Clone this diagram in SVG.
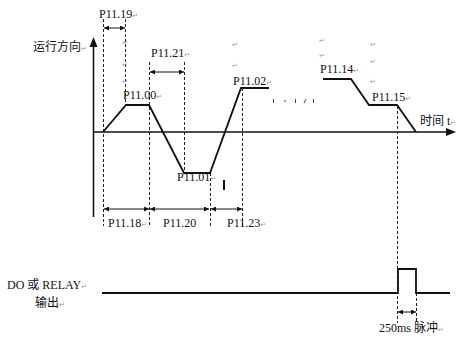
<svg xmlns="http://www.w3.org/2000/svg" width="457" height="337" viewBox="0 0 457 337">
<style>
  .t { font-family: "Liberation Serif", "Noto Sans CJK SC", serif; font-size: 12px; fill: #111; }
  .c { font-family: "Liberation Serif", "Noto Sans CJK SC", sans-serif; font-size: 12px; fill: #111; }
  .pm { font-family: "DejaVu Sans", sans-serif; font-size: 7px; fill: #999; }
  .dash { stroke: #222; stroke-width: 1; stroke-dasharray: 3 2; fill: none; }
  .axis { stroke: #111; stroke-width: 1.6; fill: none; }
  .curve { stroke: #111; stroke-width: 1.8; fill: none; stroke-linejoin: miter; }
  .dim { stroke: #111; stroke-width: 1; fill: none; marker-start: url(#ah); marker-end: url(#ah); }
</style>
<defs>
  <marker id="ah" viewBox="0 0 10 10" refX="10" refY="5" markerWidth="6" markerHeight="5" orient="auto-start-reverse" markerUnits="userSpaceOnUse">
    <path d="M0,0 L10,5 L0,10 z" fill="#111"/>
  </marker>
</defs>
<rect width="457" height="337" fill="#fff"/>

<g id="connectors">
  <!-- dashed guide lines -->
  <line class="dash" x1="103.5" y1="19" x2="103.5" y2="226"/>
  <line class="dash" x1="125.5" y1="19" x2="125.5" y2="105"/>
  <line class="dash" x1="149.5" y1="62" x2="149.5" y2="226"/>
  <line class="dash" x1="184.5" y1="62" x2="184.5" y2="173"/>
  <line class="dash" x1="210.5" y1="173" x2="210.5" y2="226"/>
  <line class="dash" x1="242.5" y1="88" x2="242.5" y2="226"/>
  <line class="dash" x1="397.5" y1="106" x2="397.5" y2="323"/>
  <line class="dash" x1="416.5" y1="293" x2="416.5" y2="323"/>
  <!-- dimension arrows -->
  <line class="dim" x1="104" y1="28" x2="125" y2="28"/>
  <line class="dim" x1="150" y1="72" x2="184" y2="72"/>
  <line class="dim" x1="104" y1="209" x2="149" y2="209"/>
  <line class="dim" x1="150" y1="209" x2="209" y2="209"/>
  <line class="dim" x1="211" y1="209" x2="242" y2="209"/>
  <line class="dim" x1="398" y1="312" x2="416" y2="312"/>
</g>

<g id="axes">
  <line class="axis" x1="93.5" y1="46" x2="93.5" y2="217"/>
  <path d="M93.5,37 L89.5,47 L97.5,47 z" fill="#111"/>
  <line class="axis" x1="93" y1="132" x2="447" y2="132"/>
  <path d="M456,132 L446,128 L446,136 z" fill="#111"/>
</g>

<g id="speed-curve">
  <polyline class="curve" points="103,132 126,105 149,105 184,173 210,173 241,88 269,88"/>
  <polyline class="curve" points="323,79 351,79 369,105 397,105 416,132"/>
  <g stroke="#444" stroke-width="1">
    <line x1="273.5" y1="99" x2="273.5" y2="103"/>
    <line x1="284" y1="101" x2="286" y2="101"/>
    <line x1="295.5" y1="99" x2="295.5" y2="103"/>
    <line x1="304" y1="103" x2="306" y2="99"/>
    <line x1="313.5" y1="99" x2="313.5" y2="103"/>
  </g>
</g>

<g id="output-signal">
  <polyline class="curve" points="102,293 398,293 398,269 416,269 416,293 450,293" stroke-width="1.6"/>
</g>

<g id="labels">
  <text class="c" x="33" y="51">运行方向<tspan class="pm">↵</tspan></text>
  <text class="t" x="99" y="18">P11.19<tspan class="pm">↵</tspan></text>
  <text class="t" x="123" y="99">P11.00<tspan class="pm">↵</tspan></text>
  <text class="t" x="151" y="57">P11.21<tspan class="pm">↵</tspan></text>
  <text class="t" x="233" y="85">P11.02<tspan class="pm">↵</tspan></text>
  <text class="t" x="177" y="181">P11.01<tspan class="pm">↵</tspan></text>
  <rect x="223" y="180" width="2" height="10" fill="#111"/>
  <text class="t" x="320" y="73">P11.14<tspan class="pm">↵</tspan></text>
  <text class="t" x="372" y="101">P11.15<tspan class="pm">↵</tspan></text>
  <text class="c" x="420" y="125">时间 t<tspan class="pm">↵</tspan></text>
  <text class="t" x="108" y="227">P11.18<tspan class="pm">↵</tspan></text>
  <text class="t" x="163" y="227">P11.20</text>
  <text class="t" x="227" y="227">P11.23<tspan class="pm">↵</tspan></text>
  <text class="c" x="7" y="289">DO 或 RELAY<tspan class="pm">↵</tspan></text>
  <text class="c" x="35" y="307">输出<tspan class="pm">↵</tspan></text>
  <text class="c" x="379" y="332">250ms 脉冲<tspan class="pm">↵</tspan></text>
  <!-- stray paragraph marks -->
  <text class="pm" x="122" y="45">↵</text>
  <text class="pm" x="122" y="67">↵</text>
  <text class="pm" x="122" y="84">↵</text>
  <text class="pm" x="232" y="47">↵</text>
  <text class="pm" x="232" y="68">↵</text>
  <text class="pm" x="319" y="43">↵</text>
  <text class="pm" x="319" y="58">↵</text>
  <text class="pm" x="370" y="47">↵</text>
  <text class="pm" x="370" y="64">↵</text>
  <text class="pm" x="370" y="84">↵</text>
</g>
</svg>
